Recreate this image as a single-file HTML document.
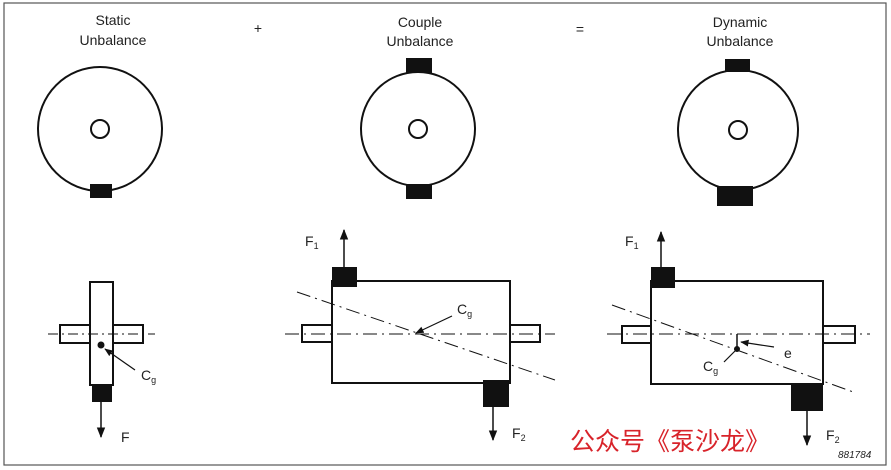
<!DOCTYPE html>
<html><head><meta charset="utf-8"><style>
html,body{margin:0;padding:0;background:#fff}
svg{display:block}
text{font-family:"Liberation Sans",sans-serif;fill:#222}
</style></head><body>
<svg width="891" height="470" viewBox="0 0 891 470" xmlns="http://www.w3.org/2000/svg">
<defs><marker id="ah" viewBox="0 0 10 10" refX="9" refY="5" markerWidth="7" markerHeight="7" orient="auto-start-reverse"><path d="M0,1 L10,5 L0,9 z" fill="#111"/></marker></defs>
<rect x="4" y="3" width="882" height="462" fill="none" stroke="#555" stroke-width="1.2"/>
<g font-size="14" text-anchor="middle">
<text x="113" y="25">Static</text><text x="113" y="45">Unbalance</text>
<text x="258" y="33">+</text>
<text x="420" y="27">Couple</text><text x="420" y="46">Unbalance</text>
<text x="580" y="34">=</text>
<text x="740" y="27">Dynamic</text><text x="740" y="46">Unbalance</text>
</g>
<g fill="none" stroke="#111" stroke-width="2">
<circle cx="100" cy="129" r="62"/><circle cx="100" cy="129" r="9"/>
<circle cx="418" cy="129" r="57"/><circle cx="418" cy="129" r="9"/>
<circle cx="738" cy="130" r="60"/><circle cx="738" cy="130" r="9"/>
</g>
<g fill="#111">
<rect x="90" y="184" width="22" height="14"/>
<rect x="406" y="58" width="26" height="15"/><rect x="406" y="184" width="26" height="15"/>
<rect x="725" y="59" width="25" height="13"/><rect x="717" y="186" width="36" height="20"/>
</g>
<!-- static bottom -->
<g fill="#fff" stroke="#111" stroke-width="2">
<rect x="60" y="325" width="83" height="18"/>
<rect x="90" y="282" width="23" height="103"/>
</g>
<line x1="48" y1="334" x2="155" y2="334" stroke="#111" stroke-width="1" stroke-dasharray="10,4,2,4"/>
<rect x="92" y="385" width="20" height="17" fill="#111"/>
<circle cx="101" cy="345" r="3.5" fill="#111"/>
<line x1="135" y1="370" x2="105" y2="349" stroke="#111" stroke-width="1.2" marker-end="url(#ah)"/>
<line x1="101" y1="402" x2="101" y2="437" stroke="#111" stroke-width="1.5" marker-end="url(#ah)"/>
<text x="141" y="380" font-size="14">C<tspan font-size="9" dy="3">g</tspan></text>
<text x="121" y="442" font-size="14">F</text>
<!-- couple bottom -->
<g fill="#fff" stroke="#111" stroke-width="2">
<rect x="302" y="325" width="30" height="17"/><rect x="510" y="325" width="30" height="17"/>
<rect x="332" y="281" width="178" height="102"/>
</g>
<rect x="332" y="267" width="25" height="20" fill="#111"/>
<rect x="483" y="380" width="26" height="27" fill="#111"/>
<line x1="285" y1="334" x2="555" y2="334" stroke="#111" stroke-width="1" stroke-dasharray="14,5,2,5"/>
<line x1="297" y1="292" x2="555" y2="380" stroke="#111" stroke-width="1" stroke-dasharray="14,5,2,5"/>
<line x1="452" y1="316" x2="416" y2="333" stroke="#111" stroke-width="1.2" marker-end="url(#ah)"/>
<line x1="344" y1="267" x2="344" y2="230" stroke="#111" stroke-width="1.5" marker-end="url(#ah)"/>
<line x1="493" y1="407" x2="493" y2="440" stroke="#111" stroke-width="1.5" marker-end="url(#ah)"/>
<text x="457" y="314" font-size="14">C<tspan font-size="9" dy="3">g</tspan></text>
<text x="305" y="246" font-size="14">F<tspan font-size="9" dy="3">1</tspan></text>
<text x="512" y="438" font-size="14">F<tspan font-size="9" dy="3">2</tspan></text>
<!-- dynamic bottom -->
<g fill="#fff" stroke="#111" stroke-width="2">
<rect x="622" y="326" width="29" height="17"/><rect x="823" y="326" width="32" height="17"/>
<rect x="651" y="281" width="172" height="103"/>
</g>
<rect x="651" y="267" width="24" height="21" fill="#111"/>
<rect x="791" y="383" width="32" height="28" fill="#111"/>
<line x1="607" y1="334" x2="870" y2="334" stroke="#111" stroke-width="1" stroke-dasharray="14,5,2,5"/>
<line x1="612" y1="305" x2="856" y2="393" stroke="#111" stroke-width="1" stroke-dasharray="14,5,2,5"/>
<line x1="737" y1="334" x2="737" y2="349" stroke="#111" stroke-width="1.5"/>
<circle cx="737" cy="349" r="3" fill="#111"/>
<line x1="774" y1="347" x2="741" y2="342" stroke="#111" stroke-width="1.2" marker-end="url(#ah)"/>
<line x1="724" y1="362" x2="736" y2="350" stroke="#111" stroke-width="1.2"/>
<line x1="661" y1="267" x2="661" y2="232" stroke="#111" stroke-width="1.5" marker-end="url(#ah)"/>
<line x1="807" y1="411" x2="807" y2="445" stroke="#111" stroke-width="1.5" marker-end="url(#ah)"/>
<text x="703" y="371" font-size="14">C<tspan font-size="9" dy="3">g</tspan></text>
<text x="784" y="358" font-size="14">e</text>
<text x="625" y="246" font-size="14">F<tspan font-size="9" dy="3">1</tspan></text>
<text x="826" y="440" font-size="14">F<tspan font-size="9" dy="3">2</tspan></text>
<text x="570" y="450" font-size="25" style="fill:#d8232a;font-family:'Liberation Sans','Noto Sans CJK SC',sans-serif">公众号《泵沙龙》</text>
<text x="838" y="458" font-size="10" font-style="italic">881784</text>
</svg>
</body></html>
